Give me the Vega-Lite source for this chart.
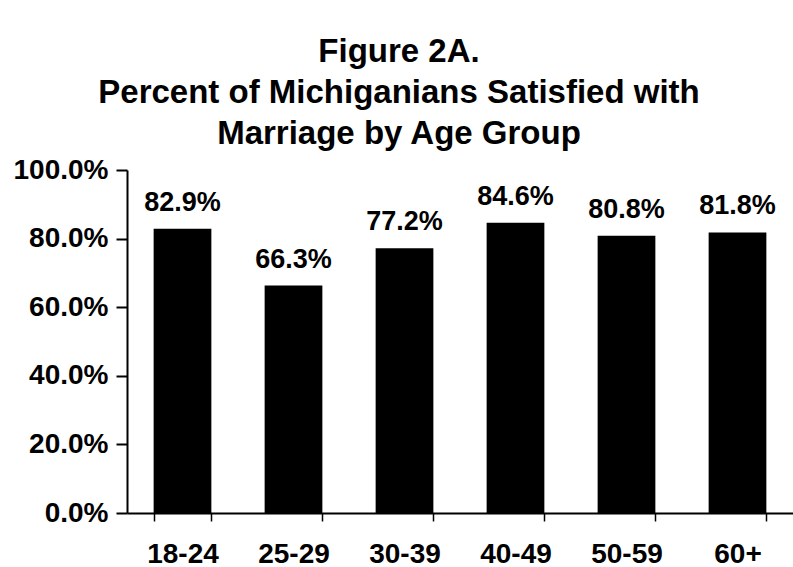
{
  "$schema": "https://vega.github.io/schema/vega-lite/v6.json",
  "autosize": "none",
  "width": 666,
  "height": 343,
  "padding": {"left": 127, "top": 170, "right": 0, "bottom": 54},
  "background": "white",
  "config": {"view": {"stroke": null}, "font": "Liberation Sans"},
  "title": {
    "text": ["Figure 2A.", "Percent of Michiganians Satisfied with", "Marriage by Age Group"],
    "fontSize": 33,
    "fontWeight": "bold",
    "lineHeight": 41,
    "anchor": "middle",
    "dx": -61,
    "offset": 5,
    "color": "black",
    "font": "Liberation Sans"
  },
  "data": {
    "values": [
      {"age": "18-24", "pct": 0.829},
      {"age": "25-29", "pct": 0.663},
      {"age": "30-39", "pct": 0.772},
      {"age": "40-49", "pct": 0.846},
      {"age": "50-59", "pct": 0.808},
      {"age": "60+", "pct": 0.818}
    ]
  },
  "encoding": {
    "x": {
      "field": "age", "type": "nominal", "sort": null,
      "scale": {"paddingInner": 0.48, "paddingOuter": 0.24},
      "axis": {
        "title": null, "labelAngle": 0, "labelFontSize": 28, "labelFontWeight": "bold",
        "labelColor": "black", "labelFont": "Liberation Sans", "tickBand": "extent", "tickSize": 8,
        "tickColor": "black", "domainColor": "black", "domainWidth": 2, "tickWidth": 1.5,
        "labelPadding": 19
      }
    },
    "y": {
      "field": "pct", "type": "quantitative",
      "scale": {"domain": [0, 1], "nice": false},
      "axis": {
        "title": null, "values": [0, 0.2, 0.4, 0.6, 0.8, 1.0], "format": ".1%", "grid": false,
        "labelFontSize": 28, "labelFontWeight": "bold", "labelColor": "black", "labelFont": "Liberation Sans",
        "tickSize": 11, "tickColor": "black", "tickWidth": 2, "domainColor": "black", "domainWidth": 2,
        "labelPadding": 8
      }
    }
  },
  "layer": [
    {"mark": {"type": "bar", "color": "black"}},
    {
      "mark": {"type": "text", "fontSize": 27, "fontWeight": "bold", "baseline": "alphabetic", "dy": -18, "color": "black", "font": "Liberation Sans"},
      "encoding": {"text": {"field": "pct", "type": "quantitative", "format": ".1%"}}
    }
  ]
}
